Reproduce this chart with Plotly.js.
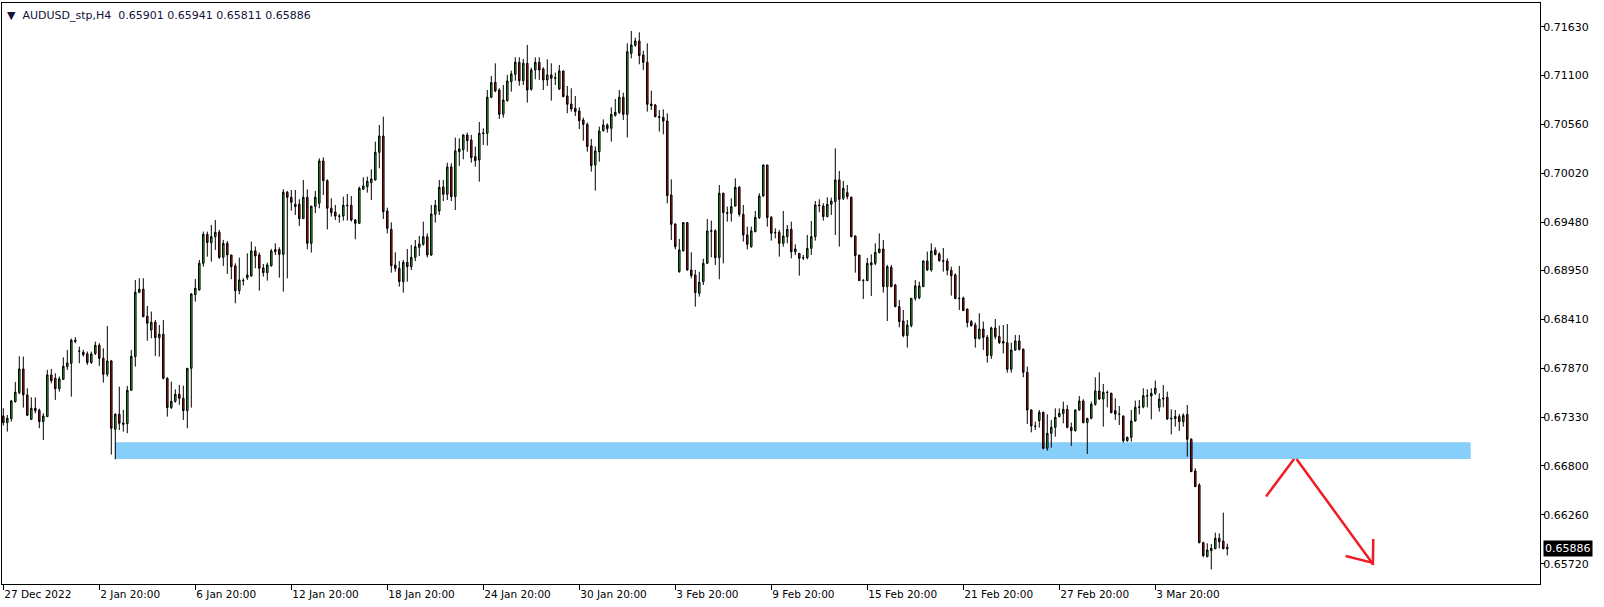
<!DOCTYPE html>
<html><head><meta charset="utf-8">
<script src="https://cdn.plot.ly/plotly-3.0.1.min.js"></script>
<style>html,body{margin:0;padding:0;background:#fff;}#chart{width:1604px;height:607px;}</style>
</head><body><div id="chart"></div>
<script>
const symbolName = "AUDUSD_stp,H4";

const openP = [
.67347,.67274,.67318,.67505,.67604,.67865,.67579,.67311,.67432,.67410,
.67285,.67340,.67799,.67762,.67648,.67751,.67891,.67927,.68181,.68063,
.68048,.68030,.67935,.68034,.68125,.67982,.67806,.67953,.67201,.67366,
.67270,.67263,.67630,.68001,.68709,.68742,.68445,.68294,.68379,.68210,
.68247,.67762,.67439,.67509,.67586,.67542,.67406,.67872,.68683,.68735,
.69028,.69347,.69256,.69322,.69370,.69094,.69248,.69120,.68999,.68727,
.68841,.68870,.68889,.69164,.69120,.68977,.68925,.69002,.69157,.69179,
.69127,.69810,.69755,.69652,.69678,.69520,.69755,.69248,.69656,.69689,
.70155,.69938,.69634,.69593,.69549,.69549,.69667,.69667,.69505,.69468,
.69843,.69872,.69916,.69946,.70250,.70430,.69604,.69402,.69009,.68973,
.68826,.69039,.68991,.69094,.69204,.69237,.69321,.69120,.69567,.69604,
.69868,.69788,.70089,.69762,.70257,.70280,.70441,.70386,.70202,.70166,
.70455,.70459,.70856,.71021,.70936,.70669,.70819,.71028,.71109,.71241,
.71039,.71230,.70944,.71157,.71241,.71168,.71047,.71102,.71072,.70947,
.71146,.70871,.70782,.70735,.70705,.70606,.70558,.70320,.70111,.70257,
.70489,.70551,.70514,.70657,.70687,.70856,.70668,.71340,.71428,.71476,
.71322,.71241,.70782,.70771,.70643,.70635,.70595,.69780,.69461,.68936,
.69167,.69476,.68955,.68900,.68698,.68826,.69028,.69380,.69387,.69090,
.69799,.69586,.69579,.69659,.69865,.69567,.69340,.69211,.69377,.69531,
.69769,.70111,.69534,.69369,.69369,.69248,.69321,.69402,.69156,.69138,
.69090,.69090,.69193,.69322,.69670,.69659,.69542,.69678,.69707,.69946,
.69744,.69806,.69755,.69329,.69120,.68837,.68837,.69010,.69028,.69146,
.69186,.68771,.68984,.68790,.68551,.68393,.68232,.68342,.68643,.68650,
.68771,.69054,.68955,.69175,.69131,.69057,.69054,.68951,.68900,.68639,
.68646,.68525,.68386,.68349,.68199,.68305,.68213,.68012,.68316,.68221,
.68166,.68154,.67861,.68074,.68173,.68081,.67828,.67413,.67237,.67296,
.67387,.66991,.67156,.67222,.67340,.67373,.67420,.67222,.67186,.67413,
.67512,.67274,.67321,.67475,.67622,.67534,.67608,.67597,.67406,.67369,
.67347,.67075,.67112,.67292,.67442,.67446,.67571,.67567,.67597,.67442,
.67534,.67553,.67314,.67318,.67340,.67285,.67365,.67090,.66741,.66587,
.65952,.65798,.65864,.65886,.66000,.65970,.65901];

const highP = [
.67432,.67358,.67524,.67722,.68004,.68001,.67652,.67553,.67553,.67428,
.67377,.67854,.67865,.67817,.67781,.67993,.68074,.68199,.68214,.68111,
.68074,.68056,.68056,.68166,.68148,.68092,.68338,.67964,.67377,.67670,
.67414,.67678,.68074,.68845,.68863,.68863,.68559,.68496,.68404,.68349,
.68404,.67773,.67725,.67641,.67689,.67681,.67872,.68698,.68856,.69065,
.69377,.69377,.69450,.69505,.69395,.69285,.69274,.69120,.69028,.69090,
.68863,.69138,.69267,.69212,.69146,.69021,.69035,.69186,.69248,.69204,
.69843,.69825,.69835,.69835,.69733,.69946,.69843,.69663,.69825,.70184,
.70195,.69953,.69744,.69670,.69571,.69762,.69791,.69769,.69516,.69872,
.69975,.69982,.70063,.70368,.70551,.70643,.69641,.69479,.69149,.69053,
.69065,.69185,.69230,.69285,.69329,.69487,.69358,.69670,.69725,.69946,
.69946,.70136,.70129,.70412,.70405,.70448,.70467,.70441,.70313,.70584,
.70514,.70936,.71091,.71230,.70955,.70991,.71102,.71149,.71296,.71296,
.71278,.71432,.71182,.71296,.71296,.71186,.71274,.71230,.71127,.71212,
.71149,.70980,.70955,.70870,.70746,.70632,.70577,.70397,.70313,.70533,
.70613,.70569,.70745,.70837,.70936,.70907,.71450,.71586,.71512,.71571,
.71369,.71450,.70929,.70782,.70716,.70723,.70679,.69953,.69468,.69296,
.69479,.69483,.69149,.68955,.68936,.69079,.69516,.69498,.69402,.69890,
.69806,.69652,.69744,.69964,.69879,.69670,.69432,.69432,.69604,.69799,
.70111,.70111,.69549,.69413,.69395,.69604,.69450,.69487,.69237,.69138,
.69120,.69340,.69494,.69714,.69733,.69689,.69755,.69751,.70294,.70045,
.69935,.69891,.69762,.69336,.69120,.68852,.69087,.69127,.69248,.69358,
.69285,.69010,.69010,.68801,.68624,.68514,.68404,.68646,.68845,.68826,
.69057,.69157,.69248,.69204,.69149,.69197,.69083,.68991,.68918,.68999,
.68661,.68529,.68404,.68375,.68478,.68386,.68239,.68331,.68415,.68342,
.68349,.68360,.68154,.68239,.68239,.68092,.67890,.67420,.67285,.67413,
.67395,.67365,.67303,.67431,.67431,.67505,.67468,.67274,.67420,.67567,
.67531,.67321,.67505,.67773,.67828,.67699,.67626,.67604,.67542,.67457,
.67351,.67119,.67413,.67516,.67523,.67652,.67641,.67652,.67736,.67597,
.67688,.67615,.67420,.67413,.67369,.67376,.67468,.67101,.66771,.66606,
.65963,.65945,.65938,.66063,.66055,.66283,.65941];

const lowP = [
.67241,.67175,.67285,.67494,.67586,.67439,.67347,.67303,.67377,.67212,
.67083,.67340,.67707,.67524,.67615,.67744,.67854,.67560,.68148,.67927,
.68001,.67909,.67920,.68019,.67898,.67714,.67781,.66922,.66870,.67193,
.67175,.67157,.67626,.67891,.68698,.68434,.68177,.68203,.68008,.68001,
.67751,.67340,.67425,.67494,.67469,.67303,.67212,.67439,.68606,.68727,
.68991,.69101,.69046,.69175,.69076,.68999,.68911,.68852,.68588,.68687,
.68782,.68845,.68881,.68973,.68727,.68881,.68837,.68991,.69120,.68870,
.68716,.68863,.69608,.69560,.69439,.69516,.69182,.69146,.69579,.69634,
.69780,.69402,.69542,.69505,.69476,.69498,.69498,.69487,.69292,.69461,
.69835,.69806,.69725,.69938,.70074,.69516,.69358,.68925,.68936,.68771,
.68705,.68826,.68954,.69053,.69109,.69222,.69094,.69109,.69476,.69560,
.69714,.69725,.69714,.69615,.70100,.70173,.70257,.70136,.70092,.69927,
.70331,.70324,.70845,.70911,.70617,.70632,.70808,.70918,.71039,.70984,
.70991,.70797,.70929,.71054,.71047,.70936,.70980,.70819,.70991,.70936,
.70856,.70680,.70698,.70650,.70507,.70379,.70257,.70037,.69828,.70147,
.70478,.70467,.70367,.70643,.70672,.70606,.70415,.71285,.71413,.71219,
.71157,.70698,.70716,.70635,.70478,.70448,.69689,.69285,.69182,.68925,
.69156,.68947,.68863,.68551,.68661,.68789,.69021,.69094,.69010,.68852,
.69028,.69487,.69487,.69652,.69542,.69267,.69182,.69200,.69369,.69516,
.69762,.69432,.69278,.69303,.69101,.69211,.69248,.69083,.69120,.68892,
.69065,.69072,.69120,.69278,.69590,.69498,.69535,.69560,.69340,.69212,
.69725,.69733,.69314,.68925,.68837,.68635,.68837,.68668,.69006,.69138,
.68705,.68393,.68764,.68544,.68323,.68213,.68100,.68323,.68617,.68632,
.68771,.68944,.68936,.69116,.69046,.68936,.68896,.68672,.68639,.68514,
.68503,.68323,.68331,.68100,.68191,.68074,.67934,.67975,.68191,.68140,
.68037,.67824,.67824,.68063,.68066,.67773,.67259,.67167,.67193,.67219,
.66980,.66965,.66998,.67119,.67332,.67266,.67211,.67017,.67175,.67406,
.67266,.66929,.67310,.67461,.67523,.67230,.67442,.67376,.67303,.67248,
.67053,.67064,.67064,.67285,.67365,.67431,.67442,.67310,.67578,.67395,
.67442,.67303,.67145,.67230,.67182,.67230,.66899,.66734,.66569,.65945,
.65791,.65791,.65659,.65879,.65890,.65879,.65811];

const closeP = [
.67274,.67322,.67513,.67608,.67865,.67579,.67355,.67432,.67406,.67285,
.67347,.67799,.67736,.67648,.67755,.67894,.67931,.68181,.68170,.68060,
.68023,.67935,.68030,.68125,.67982,.67806,.67953,.67212,.67366,.67267,
.67256,.67630,.68004,.68709,.68742,.68441,.68368,.68379,.68210,.68247,
.67762,.67439,.67509,.67586,.67542,.67406,.67872,.68691,.68753,.69028,
.69347,.69256,.69322,.69370,.69094,.69248,.69120,.68991,.68727,.68845,
.68837,.68900,.69164,.69109,.68973,.68925,.69010,.69164,.69179,.69127,
.69810,.69755,.69700,.69678,.69520,.69755,.69248,.69656,.69755,.70155,
.69938,.69634,.69586,.69549,.69546,.69667,.69663,.69505,.69468,.69854,
.69880,.69931,.69957,.70250,.70430,.69597,.69413,.69002,.68973,.68826,
.69039,.68991,.69094,.69211,.69241,.69321,.69120,.69571,.69666,.69865,
.69788,.70089,.69762,.70265,.70287,.70441,.70379,.70191,.70158,.70459,
.70462,.70856,.71017,.70925,.70669,.70826,.71036,.71113,.71241,.71039,
.71230,.70936,.71157,.71241,.71157,.71047,.71102,.71065,.71065,.71146,
.70863,.70779,.70727,.70698,.70599,.70558,.70313,.70103,.70265,.70485,
.70551,.70511,.70668,.70690,.70856,.70668,.71358,.71432,.71476,.71314,
.71241,.70778,.70764,.70643,.70635,.70595,.69773,.69457,.69211,.69175,
.69476,.68955,.68892,.68705,.68819,.69028,.69384,.69387,.69090,.69799,
.69586,.69579,.69652,.69865,.69567,.69340,.69237,.69384,.69534,.69769,
.70111,.69531,.69358,.69365,.69248,.69329,.69402,.69156,.69186,.69083,
.69087,.69193,.69322,.69670,.69663,.69542,.69678,.69714,.69946,.69733,
.69854,.69762,.69322,.69113,.68837,.68841,.69028,.69035,.69149,.69186,
.68771,.68991,.68771,.68551,.68386,.68232,.68349,.68643,.68779,.68779,
.69054,.68955,.69164,.69124,.69057,.69050,.68951,.68892,.68639,.68643,
.68507,.68375,.68342,.68199,.68305,.68213,.68012,.68316,.68221,.68155,
.68150,.67861,.68074,.68173,.68081,.67828,.67413,.67237,.67233,.67387,
.66991,.67156,.67222,.67332,.67376,.67420,.67222,.67186,.67413,.67512,
.67274,.67321,.67475,.67622,.67534,.67608,.67604,.67384,.67369,.67365,
.67075,.67112,.67292,.67442,.67446,.67571,.67567,.67597,.67652,.67534,
.67542,.67314,.67321,.67340,.67285,.67354,.67090,.66734,.66569,.65952,
.65809,.65872,.65890,.66000,.65963,.65886,.65886];

const timeTickLabels = ["27 Dec 2022","2 Jan 20:00","6 Jan 20:00","12 Jan 20:00","18 Jan 20:00","24 Jan 20:00","30 Jan 20:00","3 Feb 20:00","9 Feb 20:00","15 Feb 20:00","21 Feb 20:00","27 Feb 20:00","3 Mar 20:00"];
const barsPerTick = 24;
const priceTicks = [0.71630,0.71100,0.70560,0.70020,0.69480,0.68950,0.68410,0.67870,0.67330,0.66800,0.66260,0.65720];

// drawn objects (bar index, price)
const zoneBars = [27.9, 366.85];
const zonePrices = [0.66874, 0.67058];
const arrowUpBars = [315.7, 322.7];
const arrowUpPrices = [0.66461, 0.66874];
const arrowDownBars = [323.3, 342.4];
const arrowDownPrices = [0.66874, 0.65718];
const headLeftBars = [335.6, 342.4];
const headLeftPrices = [0.65806, 0.65730];
const headVertBars = [342.5, 342.4];
const headVertPrices = [0.65993, 0.65705];

const xIdx = openP.map((_, i) => i);
const tickVals = timeTickLabels.map((_, i) => i * barsPerTick);
const last = openP.length - 1;

const font = "DejaVu Sans, Verdana, sans-serif";

const trace = {
  type: 'candlestick',
  x: xIdx, open: openP, high: highP, low: lowP, close: closeP,
  increasing: {line: {color: '#000000', width: 1}, fillcolor: '#22c322'},
  decreasing: {line: {color: '#000000', width: 1}, fillcolor: '#d21010'},
  whiskerwidth: 0,
  hoverinfo: 'skip',
  showlegend: false
};

function seg(xs, ys) {
  return {type: 'line', xref: 'x', yref: 'y', x0: xs[0], y0: ys[0], x1: xs[1], y1: ys[1],
    line: {color: '#ee1c24', width: 2.5}, layer: 'above'};
}

const layout = {
  width: 1604, height: 607,
  paper_bgcolor: '#ffffff', plot_bgcolor: '#ffffff',
  margin: {l: 2, r: 64, t: 3, b: 23},
  showlegend: false,
  boxgap: 0.45,
  font: {family: font, size: 11, color: '#000000'},
  xaxis: {
    type: 'linear', range: [-0.325, 384.18], rangeslider: {visible: false},
    showgrid: false, zeroline: false,
    showline: true, mirror: true, linecolor: '#000000', linewidth: 1,
    tickvals: tickVals, ticktext: timeTickLabels,
    ticks: 'outside', ticklen: 5, tickcolor: '#000000', tickwidth: 1,
    ticklabelposition: 'outside right',
    tickfont: {family: font, size: 10.5, color: '#000000'},
    fixedrange: true
  },
  yaxis: {
    side: 'right', range: [0.65497, 0.71894],
    showgrid: false, zeroline: false,
    showline: true, mirror: true, linecolor: '#000000', linewidth: 1,
    tickvals: priceTicks, tickformat: '.5f',
    ticks: 'outside', ticklen: 4, tickcolor: '#000000', tickwidth: 1,
    ticklabelstandoff: -4,
    tickfont: {family: font, size: 11, color: '#000000'},
    fixedrange: true
  },
  shapes: [
    {type: 'rect', xref: 'x', yref: 'y', x0: zoneBars[0], x1: zoneBars[1], y0: zonePrices[0], y1: zonePrices[1],
      fillcolor: '#87cefa', line: {width: 0}, layer: 'below'},
    seg(arrowUpBars, arrowUpPrices),
    seg(arrowDownBars, arrowDownPrices),
    seg(headLeftBars, headLeftPrices),
    seg(headVertBars, headVertPrices)
  ],
  annotations: [
    {xref: 'paper', yref: 'paper', x: 0, y: 1, xanchor: 'left', yanchor: 'top', xshift: 3, yshift: -4,
      showarrow: false, align: 'left',
      text: '\u25BC\u00a0\u00a0' + symbolName + '\u00a0\u00a0' + [openP[last], highP[last], lowP[last], closeP[last]].map(v => v.toFixed(5)).join(' '),
      font: {family: font, size: 11, color: '#12123a'}},
    {xref: 'paper', yref: 'y', x: 1, y: closeP[last], xanchor: 'left', yanchor: 'middle', xshift: 3,
      showarrow: false, text: closeP[last].toFixed(5), bgcolor: '#000000', borderpad: 1,
      font: {family: font, size: 11, color: '#ffffff'}}
  ]
};

Plotly.newPlot('chart', [trace], layout, {staticPlot: true, displayModeBar: false});
</script>
</body></html>
